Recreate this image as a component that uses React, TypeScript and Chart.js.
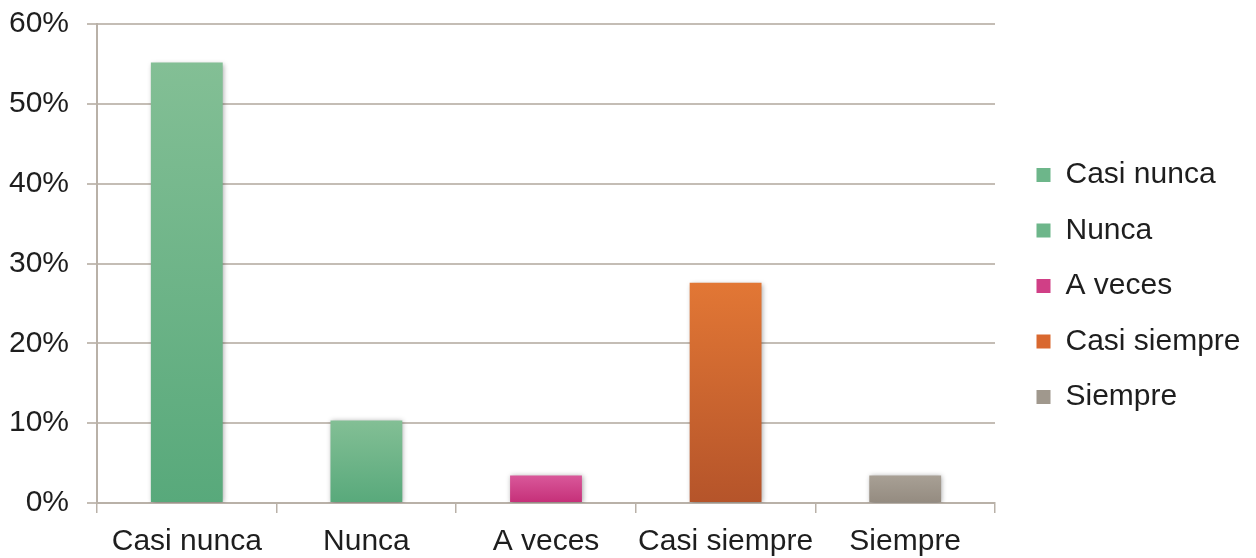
import React, { useEffect, useRef } from "react";
import { Chart, registerables } from "chart.js";

Chart.register(...registerables);

const categories = ["Casi nunca", "Nunca", "A veces", "Casi siempre", "Siempre"];
const values = [55.17, 10.34, 3.45, 27.59, 3.45];
const yTicks = [0, 10, 20, 30, 40, 50, 60];
const topColors = ["#83bf95", "#83bf95", "#d9589a", "#e27735", "#a8a095"];
const bottomColors = ["#58a97b", "#58a97b", "#c52f78", "#b5542a", "#948b80"];
const legendColors = ["#6db68a", "#6db68a", "#d03f86", "#d9682f", "#a0988d"];

const FONT = "'Liberation Sans', Arial, Helvetica, sans-serif";

export default function App() {
  const ref = useRef<HTMLCanvasElement | null>(null);
  useEffect(() => {
    if (!ref.current) return;
    const shadow = {
      id: "barShadow",
      afterLayout(chart: any) {
        if (chart.legend) {
          chart.legend.left += 16;
          chart.legend.right += 16;
        }
      },
      beforeDatasetsDraw(chart: any) {
        const ctx = chart.ctx;
        ctx.save();
        ctx.shadowColor = "rgba(0,0,0,0.35)";
        ctx.shadowBlur = 5;
        ctx.shadowOffsetX = 1;
        ctx.shadowOffsetY = 1;
      },
      afterDatasetsDraw(chart: any) {
        chart.ctx.restore();
      },
    };
    const chart = new Chart(ref.current, {
      type: "bar",
      data: {
        labels: categories,
        datasets: [
          {
            data: values,
            backgroundColor: (c: any) => {
              const chart = c.chart;
              const y = chart.scales?.y;
              if (!y || c.dataIndex === undefined) return topColors[0];
              const top = y.getPixelForValue(c.raw);
              const bot = y.getPixelForValue(0);
              if (!isFinite(top) || !isFinite(bot) || top === bot) return topColors[c.dataIndex];
              const g = chart.ctx.createLinearGradient(0, top, 0, bot);
              g.addColorStop(0, topColors[c.dataIndex]);
              g.addColorStop(1, bottomColors[c.dataIndex]);
              return g;
            },
            borderWidth: 0,
            categoryPercentage: 1,
            barPercentage: 0.4,
          },
        ],
      },
      options: {
        animation: false,
        responsive: true,
        maintainAspectRatio: false,
        layout: { padding: { left: 0, top: 14, right: 0, bottom: 0 } },
        plugins: {
          tooltip: { enabled: false },
          legend: {
            position: "right",
            labels: {
              font: { family: FONT, size: 30 },
              color: "#1e1e1e",
              boxWidth: 14,
              boxHeight: 14,
              padding: 25.5,
              generateLabels: () =>
                categories.map((name, i) => ({
                  text: name,
                  fillStyle: legendColors[i],
                  strokeStyle: legendColors[i],
                  lineWidth: 0,
                  hidden: false,
                  index: i,
                  fontColor: "#1e1e1e",
                })),
            },
          },
        },
        scales: {
          x: {
            afterFit: (s: any) => {
              s.height = 55;
              s.paddingRight = 261;
            },
            grid: {
              display: true,
              drawOnChartArea: false,
              drawTicks: true,
              tickLength: 10,
              color: "#b9b1a8",
              lineWidth: 1.5,
              offset: true,
            },
            border: { display: true, color: "#b9b1a8", width: 2 },
            ticks: { font: { family: FONT, size: 30 }, color: "#1e1e1e", padding: 11 },
          },
          y: {
            min: 0,
            max: 60,
            afterFit: (s: any) => {
              s.width = 97;
              s.paddingTop = 24;
            },
            afterBuildTicks: (scale: any) => {
              scale.ticks = yTicks.map((v) => ({ value: v }));
            },
            grid: {
              color: "#c4bdb5",
              lineWidth: 2,
              tickLength: 10,
            },
            border: { display: true, color: "#b9b1a8", width: 2 },
            ticks: {
              font: { family: FONT, size: 30 },
              color: "#1e1e1e",
              padding: 18,
              callback: (v: any) => v + "%",
            },
          },
        },
      },
      plugins: [shadow],
    });
    return () => chart.destroy();
  }, []);
  return (
    <div style={{ position: "fixed", left: 0, top: 0, width: 1256, height: 558, background: "#fff" }}>
      <canvas ref={ref} />
    </div>
  );
}
